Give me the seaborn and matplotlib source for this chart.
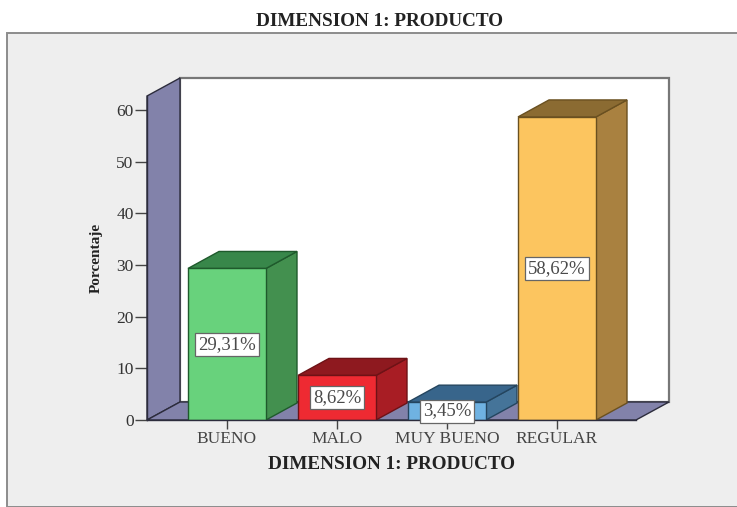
import matplotlib
matplotlib.use("Agg")
import matplotlib.pyplot as plt
from matplotlib.patches import Polygon, Rectangle
import pandas as pd
import seaborn as sns

categories = ["BUENO", "MALO", "MUY BUENO", "REGULAR"]
percentages = [29.31, 8.62, 3.45, 58.62]
front_colors = ["#68d27c", "#ee2a32", "#6fb2e2", "#fcc55f"]
side_colors = ["#43904f", "#a81d24", "#457499", "#a98140"]
top_colors = ["#38874a", "#8e191f", "#38658b", "#8b6b32"]
edge_colors = ["#1f5a2c", "#6e1216", "#24455f", "#6a5020"]
wall_color = "#8282aa"
panel_color = "#eeeeee"
title_text = "DIMENSION 1: PRODUCTO"
y_label = "Porcentaje"
y_ticks = [0, 10, 20, 30, 40, 50, 60]

W, H = 737, 507
sns.set_theme(style="white")
plt.rcParams["font.family"] = ["Liberation Serif", "DejaVu Serif"]

fig = plt.figure(figsize=(W / 100, H / 100), dpi=100, facecolor="white")

# Grey chart panel behind the plot
fig.add_artist(Rectangle((7 / W, 0.5 / H), (W + 5 - 7) / W, (H - 33 - 0.5) / H,
                         transform=fig.transFigure, facecolor=panel_color,
                         edgecolor="#8c8c8c", linewidth=1.4, zorder=-1))

# Front plane of the pseudo-3D box
left, right, base, top = 147, 636, 420, 96
ax = fig.add_axes([left / W, 1 - base / H, (right - left) / W, (base - top) / H])
px_per_unit = 5.17
ax.set_xlim((left - 227) / 110, (right - 227) / 110)
ax.set_ylim(0, (base - top) / px_per_unit)
ax.patch.set_alpha(0)

# Depth of the box and of the bars, in data units
box_dx, box_dy = 33 / 110, 18 / px_per_unit
bar_dx, bar_dy = 31 / 110, 17 / px_per_unit
bar_w = 78 / 110

x0, x1 = ax.get_xlim()
y1 = ax.get_ylim()[1]
dark = "#2c2c3c"


def face(points, color, z, ec=dark, lw=1.0):
    ax.add_patch(Polygon(points, closed=True, facecolor=color, edgecolor=ec,
                         linewidth=lw, zorder=z, clip_on=False))


# Back wall, left wall and floor
face([(x0 + box_dx, box_dy), (x1 + box_dx, box_dy), (x1 + box_dx, y1 + box_dy),
      (x0 + box_dx, y1 + box_dy)], "white", 0.5, ec="#777777", lw=1.6)
face([(x0, 0), (x0 + box_dx, box_dy), (x0 + box_dx, y1 + box_dy), (x0, y1)],
     wall_color, 0.6)
face([(x0, 0), (x1, 0), (x1 + box_dx, box_dy), (x0 + box_dx, box_dy)],
     wall_color, 0.6)

data = pd.DataFrame({"categoria": categories, "porcentaje": percentages})
sns.barplot(data=data, x="categoria", y="porcentaje", hue="categoria",
            palette=front_colors, dodge=False, legend=False, width=bar_w,
            saturation=1, linewidth=1.0, ax=ax, zorder=3)
ax.set_xlim(x0, x1)
ax.set_ylim(0, y1)

# Each front face takes the dark outline of its own colour
for container, edge in zip(ax.containers, edge_colors):
    for patch in container:
        patch.set_edgecolor(edge)

# Side and top faces of each bar, derived from its value
for i, value in enumerate(percentages):
    a, b = i - bar_w / 2, i + bar_w / 2
    face([(b, 0), (b + bar_dx, bar_dy), (b + bar_dx, value + bar_dy), (b, value)],
         side_colors[i], 2, ec=edge_colors[i])
    face([(a, value), (b, value), (b + bar_dx, value + bar_dy),
          (a + bar_dx, value + bar_dy)], top_colors[i], 2, ec=edge_colors[i])
    ax.text(i, value / 2, f"{value:.2f}%".replace(".", ","), ha="center",
            va="center", fontsize=13.5, color="#4a4a4a", zorder=5,
            bbox=dict(boxstyle="square,pad=0.16", facecolor="white",
                      edgecolor="#666666", linewidth=0.9))

sns.despine(ax=ax, top=True, right=True)
for s in ("left", "bottom"):
    ax.spines[s].set_color(dark)
    ax.spines[s].set_linewidth(1.0)
    ax.spines[s].set_zorder(4)

ax.set_yticks(y_ticks)
ax.tick_params(axis="y", length=8.6, width=1, color="#444444", labelsize=12.5,
               labelcolor="#333333", pad=1, left=True)
ax.tick_params(axis="x", length=6.5, width=1, color="#444444", labelsize=12.5,
               labelcolor="#444444", pad=1.5, bottom=True)
ax.set_xlabel(title_text, fontsize=13.8, fontweight="bold", color="#222222", labelpad=6.5)
ax.set_ylabel(y_label, fontsize=11, fontweight="bold", color="#222222", labelpad=9.5)

fig.text(379 / W, 1 - 21 / H, title_text, ha="center", va="center",
         fontsize=13.8, fontweight="bold", color="#222222")

fig.savefig("out.png", dpi=100)
